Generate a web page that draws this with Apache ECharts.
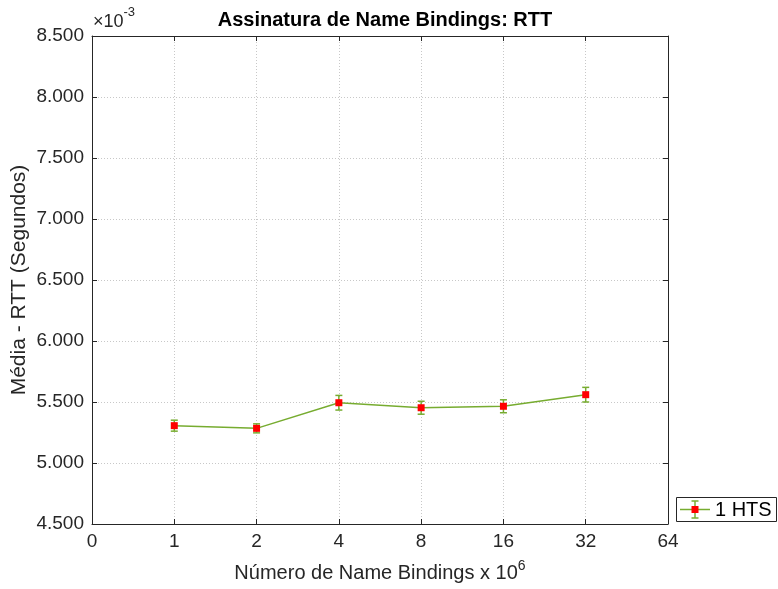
<!DOCTYPE html>
<html><head><meta charset="utf-8">
<script src="https://cdn.jsdelivr.net/npm/echarts@6/dist/echarts.min.js"></script>
<style>html,body{margin:0;padding:0;background:#fff}#c{width:778px;height:589px}</style>
</head><body><div id="c"></div>
<script>
var xTickLabels = ['0','1','2','4','8','16','32','64'];
var xPositions = [1, 2, 3, 4, 5, 6];
var rttMean = [5.306, 5.284, 5.494, 5.453, 5.465, 5.560];
var rttErr = [0.045, 0.037, 0.060, 0.053, 0.053, 0.060];
var yTicks = [4.5, 5.0, 5.5, 6.0, 6.5, 7.0, 7.5, 8.0, 8.5];

var green = '#77AC30';
var txt = '#262626';
var font = 'Liberation Sans, Arial, Helvetica, sans-serif';

var chart = echarts.init(document.getElementById('c'), null, {renderer: 'canvas'});
var lineData = xPositions.map(function (x, i) { return [x, rttMean[i]]; });
var errData = xPositions.map(function (x, i) { return [x, rttMean[i] - rttErr[i], rttMean[i] + rttErr[i]]; });

var axisCommon = {
  axisLine: {show: true, onZero: false, lineStyle: {color: txt, width: 1}},
  axisTick: {show: true, inside: true, length: 5, lineStyle: {color: txt}},
};

chart.setOption({
  animation: false,
  backgroundColor: '#fff',
  title: {
    text: 'Assinatura de Name Bindings: RTT',
    left: 380, top: 5, textAlign: 'center',
    textStyle: {fontFamily: font, fontSize: 20, fontWeight: 'bold', color: '#000'}
  },
  grid: {left: 92, right: 110, top: 36, bottom: 65, containLabel: false, outerBoundsMode: 'none'},
  xAxis: [Object.assign({
    type: 'value', min: 0, max: 7, interval: 1,
    axisLabel: {fontFamily: font, fontSize: 19, color: txt, margin: 8,
      formatter: function (v) { return xTickLabels[v]; }},
    splitLine: {show: true, lineStyle: {color: '#c8c8c8', type: [1, 2], width: 1}},
    name: '{b|Número de Name Bindings x 10}{s|6}',
    nameLocation: 'middle', nameGap: 35,
    nameTextStyle: {rich: {
      b: {fontFamily: font, fontSize: 20, color: txt, verticalAlign: 'bottom', lineHeight: 24},
      s: {fontFamily: font, fontSize: 14, color: txt, verticalAlign: 'top', padding: [0, 0, 10, 0], lineHeight: 24}
    }}
  }, axisCommon), Object.assign({
    type: 'value', min: 0, max: 7, interval: 1, position: 'top',
    axisLabel: {show: false}, splitLine: {show: false}
  }, axisCommon)],
  yAxis: [Object.assign({
    type: 'value', min: 4.5, max: 8.5, interval: 0.5,
    axisLabel: {fontFamily: font, fontSize: 19, color: txt, margin: 8,
      formatter: function (v) { return v.toFixed(3); }},
    splitLine: {show: true, lineStyle: {color: '#c8c8c8', type: [1, 2], width: 1}},
    name: 'Média - RTT (Segundos)', nameLocation: 'middle', nameGap: 62, nameRotate: 90,
    nameMoveOverlap: false,
    nameTextStyle: {fontFamily: font, fontSize: 21, color: txt}
  }, axisCommon), Object.assign({
    type: 'value', min: 4.5, max: 8.5, interval: 0.5, position: 'right',
    axisLabel: {show: false}, splitLine: {show: false}
  }, axisCommon)],
  graphic: [
    {type: 'text', left: 93, top: 6, style: {
      text: '{a|×10}{b|-3}', fill: txt,
      rich: {a: {fontFamily: font, fontSize: 18, fill: txt, padding: [7, 0, 0, 0]},
             b: {fontFamily: font, fontSize: 13, fill: txt, verticalAlign: 'top', padding: [0, 0, 10, 0]}}
    }},
    {type: 'group', left: 676, top: 497, children: [
      {type: 'rect', shape: {x: 0.5, y: 0.5, width: 100, height: 24}, style: {fill: '#fff', stroke: '#262626', lineWidth: 1}},
      {type: 'line', shape: {x1: 4, y1: 12.5, x2: 34, y2: 12.5}, style: {stroke: green, lineWidth: 1.5}},
      {type: 'line', shape: {x1: 19, y1: 4, x2: 19, y2: 21}, style: {stroke: green, lineWidth: 1.5}},
      {type: 'line', shape: {x1: 15.5, y1: 4, x2: 22.5, y2: 4}, style: {stroke: green, lineWidth: 1.5}},
      {type: 'line', shape: {x1: 15.5, y1: 21, x2: 22.5, y2: 21}, style: {stroke: green, lineWidth: 1.5}},
      {type: 'rect', shape: {x: 15.5, y: 9, width: 7, height: 7}, style: {fill: '#ff0000'}},
      {type: 'text', x: 39, y: 3, style: {text: '1 HTS', fontFamily: font, fontSize: 20, fill: '#000'}}
    ]}
  ],
  series: [
    {
      type: 'custom', name: 'err', xAxisIndex: 0, yAxisIndex: 0, z: 3,
      data: errData,
      renderItem: function (params, api) {
        var x = api.value(0);
        var lo = api.coord([x, api.value(1)]);
        var hi = api.coord([x, api.value(2)]);
        var w = 3.5;
        var st = {stroke: green, lineWidth: 1.5, fill: null};
        return {type: 'group', children: [
          {type: 'line', shape: {x1: lo[0], y1: lo[1], x2: hi[0], y2: hi[1]}, style: st},
          {type: 'line', shape: {x1: lo[0] - w, y1: lo[1], x2: lo[0] + w, y2: lo[1]}, style: st},
          {type: 'line', shape: {x1: hi[0] - w, y1: hi[1], x2: hi[0] + w, y2: hi[1]}, style: st}
        ]};
      }
    },
    {
      type: 'line', name: '1 HTS', xAxisIndex: 0, yAxisIndex: 0, z: 4,
      data: lineData,
      lineStyle: {color: green, width: 1.5},
      symbol: 'rect', symbolSize: 7,
      itemStyle: {color: '#ff0000', borderWidth: 0}
    }
  ]
});
</script>
</body></html>
